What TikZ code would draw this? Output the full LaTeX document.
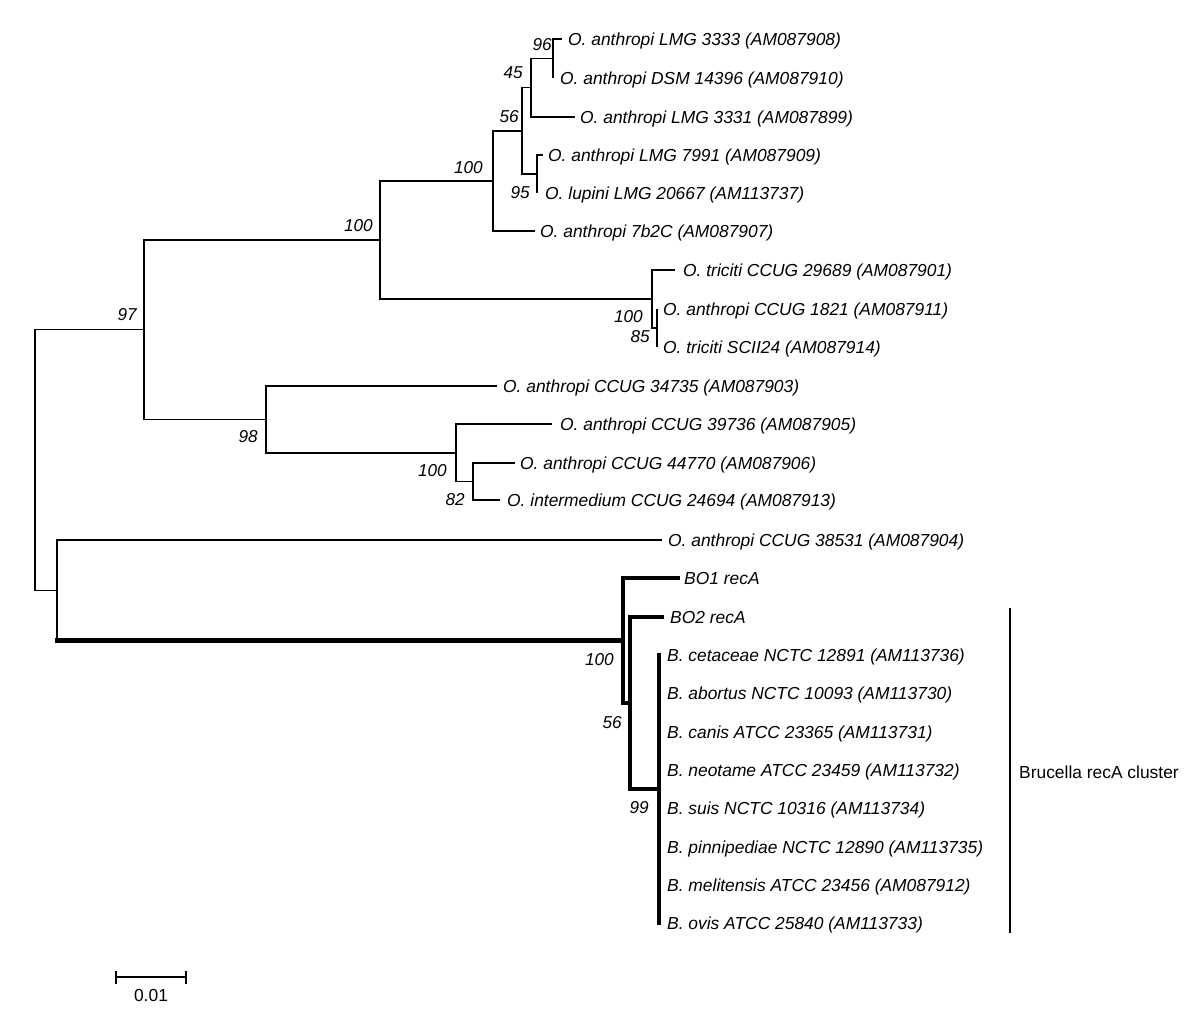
\documentclass[tikz,border=0pt]{standalone}
\usepackage{fontspec}
\setmainfont{Liberation Sans}
\begin{document}
\begin{tikzpicture}[x=1pt,y=-1pt,
  br/.style={line width=1.4pt},
  hb/.style={line width=4.6pt,line cap=rect},
  leaf/.style={anchor=base west,inner sep=0pt,font=\fontsize{17.4}{20}\selectfont\itshape},
  boot/.style={anchor=east,inner sep=0pt,font=\fontsize{17.2}{19}\selectfont\itshape},
  plain/.style={inner sep=0pt,font=\fontsize{17.4}{20}\selectfont}]
\useasboundingbox (0,0) rectangle (1200,1025);
% internal nodes
\coordinate (root) at (35,460);
\coordinate (n97) at (144,329.7);
\coordinate (nB) at (57,590.3);
\coordinate (n100b) at (380,240);
\coordinate (n98) at (266,419.4);
\coordinate (n100a) at (493,181);
\coordinate (n100c) at (652,299);
\coordinate (n56a) at (522,130.9);
\coordinate (n45) at (531,87.8);
\coordinate (n96) at (553,58.5);
\coordinate (n95) at (537,174);
\coordinate (n85) at (657,328);
\coordinate (n100d) at (456,452.8);
\coordinate (n82) at (473,481.5);
\coordinate (nB100) at (623,640.5);
\coordinate (n56b) at (630,703);
\coordinate (n99) at (659,789);
% leaf tips
\coordinate (l1) at (562,39);
\coordinate (l2) at (553,78);
\coordinate (l3) at (575,117);
\coordinate (l4) at (543,155);
\coordinate (l5) at (537,193);
\coordinate (l6) at (535,231);
\coordinate (l7) at (675,270);
\coordinate (l8) at (657,309);
\coordinate (l9) at (657,347);
\coordinate (l10) at (497,386);
\coordinate (l11) at (552,424);
\coordinate (l12) at (515,463);
\coordinate (l13) at (500,500);
\coordinate (l14) at (662,540);
\coordinate (l15) at (678,578);
\coordinate (l16) at (662,617);
\coordinate (l17) at (659,655);
\coordinate (l24) at (659,923);
% thin branches
\draw[br] (root) |- (n97);
\draw[br] (root) |- (nB);
\draw[br] (n97) |- (n100b);
\draw[br] (n97) |- (n98);
\draw[br] (n100b) |- (n100a);
\draw[br] (n100b) |- (n100c);
\draw[br] (n100a) |- (n56a);
\draw[br] (n100a) |- (l6);
\draw[br] (n56a) |- (n45);
\draw[br] (n56a) |- (n95);
\draw[br] (n45) |- (n96);
\draw[br] (n45) |- (l3);
\draw[br] (n96) |- (l1);
\draw[br] (n96) |- (l2);
\draw[br] (n95) |- (l4);
\draw[br] (n95) |- (l5);
\draw[br] (n100c) |- (l7);
\draw[br] (n100c) |- (n85);
\draw[br] (n85) |- (l8);
\draw[br] (n85) |- (l9);
\draw[br] (n98) |- (l10);
\draw[br] (n98) |- (n100d);
\draw[br] (n100d) |- (l11);
\draw[br] (n100d) |- (n82);
\draw[br] (n82) |- (l12);
\draw[br] (n82) |- (l13);
\draw[br] (nB) |- (l14);
\draw[br] (nB) -- (nB |- nB100);
% thick branches
\draw[hb] (nB |- nB100) -- (nB100);
\draw[hb] (nB100) |- (l15);
\draw[hb] (nB100) |- (n56b);
\draw[hb] (n56b) |- (l16);
\draw[hb] (n56b) |- (n99);
\draw[hb] (n99) |- (l17);
\draw[hb] (n99) |- (l24);
% leaf labels
\node[leaf] (t1) at (568,45.2) {O. anthropi LMG 3333 (AM087908)};
\node[leaf] (t2) at (560,84.2) {O. anthropi DSM 14396 (AM087910)};
\node[leaf] (t3) at (580,123.2) {O. anthropi LMG 3331 (AM087899)};
\node[leaf] (t4) at (548,161.2) {O. anthropi LMG 7991 (AM087909)};
\node[leaf] (t5) at (545,199.2) {O. lupini LMG 20667 (AM113737)};
\node[leaf] (t6) at (540,237.2) {O. anthropi 7b2C (AM087907)};
\node[leaf] (t7) at (683,276.2) {O. triciti CCUG 29689 (AM087901)};
\node[leaf] (t8) at (663,315.2) {O. anthropi CCUG 1821 (AM087911)};
\node[leaf] (t9) at (663,353.2) {O. triciti SCII24 (AM087914)};
\node[leaf] (t10) at (503,392.2) {O. anthropi CCUG 34735 (AM087903)};
\node[leaf] (t11) at (560,430.2) {O. anthropi CCUG 39736 (AM087905)};
\node[leaf] (t12) at (520,469.2) {O. anthropi CCUG 44770 (AM087906)};
\node[leaf] (t13) at (507,506.2) {O. intermedium CCUG 24694 (AM087913)};
\node[leaf] (t14) at (668,546.2) {O. anthropi CCUG 38531 (AM087904)};
\node[leaf] (t15) at (684,584.2) {BO1 recA};
\node[leaf] (t16) at (670,623.2) {BO2 recA};
\node[leaf] (t17) at (667,661.2) {B. cetaceae NCTC 12891 (AM113736)};
\node[leaf] (t18) at (667,699.2) {B. abortus NCTC 10093 (AM113730)};
\node[leaf] (t19) at (667,738.2) {B. canis ATCC 23365 (AM113731)};
\node[leaf] (t20) at (667,776.2) {B. neotame ATCC 23459 (AM113732)};
\node[leaf] (t21) at (667,814.2) {B. suis NCTC 10316 (AM113734)};
\node[leaf] (t22) at (667,853.2) {B. pinnipediae NCTC 12890 (AM113735)};
\node[leaf] (t23) at (667,891.2) {B. melitensis ATCC 23456 (AM087912)};
\node[leaf] (t24) at (667,929.2) {B. ovis ATCC 25840 (AM113733)};
% bootstrap values
\node[boot] (b96) at (552,45) {96};
\node[boot] (b45) at (523,73) {45};
\node[boot] (b56a) at (519,117) {56};
\node[boot] (b95) at (530,193) {95};
\node[boot] (b100a) at (483,168) {100};
\node[boot] (b100b) at (373,226) {100};
\node[boot] (b97) at (137,315) {97};
\node[boot] (b98) at (258,437) {98};
\node[boot] (b100d) at (447,471) {100};
\node[boot] (b82) at (465,500) {82};
\node[boot] (b100c) at (643,317) {100};
\node[boot] (b85) at (650,337) {85};
\node[boot] (b100e) at (614,660) {100};
\node[boot] (b56b) at (622,723) {56};
\node[boot] (b99) at (649,808) {99};
% cluster bar
\coordinate (ca) at (1010,608);
\coordinate (cb) at (1010,933);
\draw[br] (ca) -- (cb);
\node[plain,anchor=base west] (clab) at (1019,778) {Brucella recA cluster};
% scale bar
\coordinate (sa) at (116,977);
\coordinate (sb) at (186,977);
\coordinate (sa1) at (116,971);
\coordinate (sa2) at (116,984);
\coordinate (sb1) at (186,971);
\coordinate (sb2) at (186,984);
\draw[br] (sa) -- (sb);
\draw[br] (sa1) -- (sa2);
\draw[br] (sb1) -- (sb2);
\node[plain] (slab) at (151,996) {0.01};
\end{tikzpicture}
\end{document}
